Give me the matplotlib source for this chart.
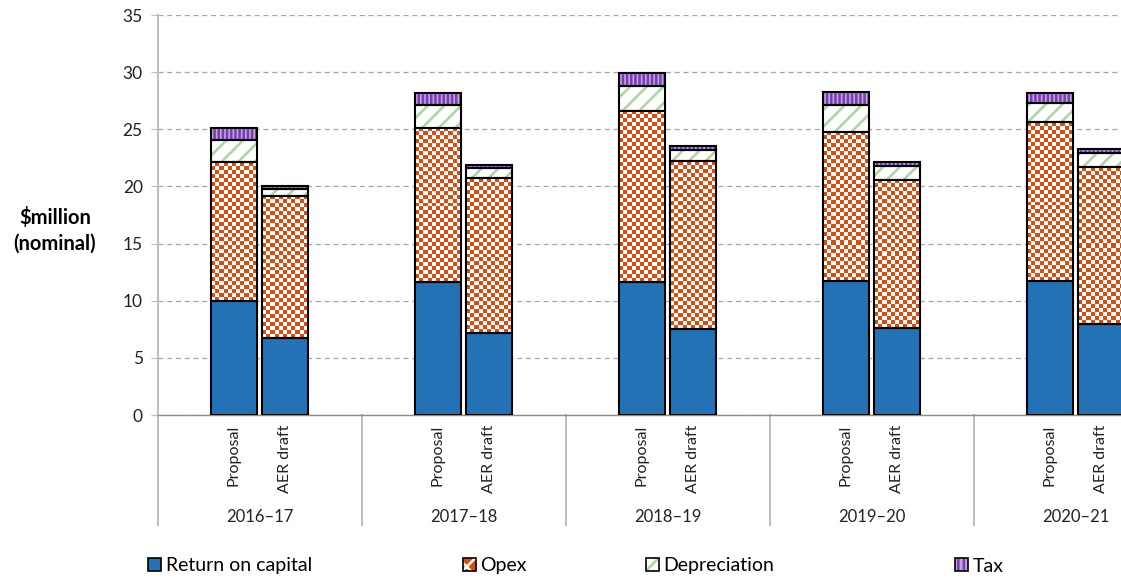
import numpy as np
import matplotlib
matplotlib.use("Agg")
import matplotlib.pyplot as plt
from matplotlib.colors import ListedColormap
from matplotlib.patches import Patch

plt.rcParams['font.family'] = ['Lato', 'DejaVu Sans']
plt.rcParams['hatch.linewidth'] = 1.8

# Data ($million nominal)
years = ["2016–17", "2017–18", "2018–19", "2019–20", "2020–21"]
scenarios = ["Proposal", "AER draft"]

return_proposal = [10.0, 11.6, 11.6, 11.7, 11.7]
opex_proposal = [12.1, 13.5, 15.0, 13.1, 13.9]
dep_proposal = [2.0, 2.0, 2.2, 2.3, 1.7]
tax_proposal = [1.0, 1.1, 1.1, 1.2, 0.9]

return_aer = [6.7, 7.2, 7.5, 7.6, 8.0]
opex_aer = [12.5, 13.5, 14.7, 13.0, 13.7]
dep_aer = [0.6, 0.9, 1.0, 1.2, 1.2]
tax_aer = [0.25, 0.3, 0.3, 0.3, 0.35]

BLUE = '#2372B6'
ORANGE = '#DD4B0D'
GREEN = '#A6D89C'
PURPLE_FACE = '#C0A4DE'
PURPLE_LINE = '#7A3DB0'
GRID = '#A6A6A6'
AXIS = '#BFBFBF'
TXT = '#222222'

fig = plt.figure(figsize=(11.21, 5.81), dpi=100)
ax = fig.add_axes([158 / 1121, 1 - 415 / 581, 1020 / 1121, 400 / 581])

x = np.arange(len(years))
width = 0.225
offsets = [-0.1275, 0.1225]
px_per_x = 204.0
px_per_y = 400.0 / 35


def checker(rect):
    # checkerboard fill clipped to the bar
    x0, y0 = rect.get_x(), rect.get_y()
    w, h = rect.get_width(), rect.get_height()
    nx = max(1, int(round(w * px_per_x / 4.0)))
    ny = max(1, int(round(h * px_per_y / 4.0)))
    arr = np.add.outer(np.arange(ny), np.arange(nx)) % 2
    im = ax.imshow(arr, cmap=ListedColormap(['white', ORANGE]),
                   extent=[x0, x0 + w, y0, y0 + h], aspect='auto',
                   interpolation='nearest', origin='lower', zorder=2)
    im.set_clip_path(rect)


groups = [
    (return_proposal, opex_proposal, dep_proposal, tax_proposal),
    (return_aer, opex_aer, dep_aer, tax_aer),
]

for off, (ret, opx, dep, tax) in zip(offsets, groups):
    pos = x + off
    ret = np.array(ret)
    opx = np.array(opx)
    dep = np.array(dep)
    tax = np.array(tax)
    ax.bar(pos, ret, width, color=BLUE, edgecolor='black', linewidth=1.5, zorder=3)
    bars = ax.bar(pos, opx, width, bottom=ret, facecolor='none', edgecolor='black',
                  linewidth=1.5, zorder=3)
    for r in bars:
        checker(r)
    b2 = ret + opx
    ax.bar(pos, dep, width, bottom=b2, facecolor='white', edgecolor=GREEN,
           hatch='//', linewidth=0, zorder=2)
    ax.bar(pos, dep, width, bottom=b2, facecolor='none', edgecolor='black',
           linewidth=1.5, zorder=3)
    b3 = b2 + dep
    ax.bar(pos, tax, width, bottom=b3, facecolor=PURPLE_FACE, edgecolor=PURPLE_LINE,
           hatch='||||', linewidth=0, zorder=2)
    ax.bar(pos, tax, width, bottom=b3, facecolor='none', edgecolor='black',
           linewidth=1.5, zorder=3)

ax.set_xlim(-0.5, len(years) - 0.5)
ax.set_ylim(0, 35)
ax.set_yticks(range(0, 36, 5))
ax.tick_params(axis='y', labelsize=12.5, length=5, color=AXIS, pad=6, labelcolor=TXT)
ax.set_xticks([])
ax.yaxis.grid(True, linestyle=(0, (4, 3)), color=GRID, linewidth=0.9)
ax.set_axisbelow(True)
for s in ['top', 'right']:
    ax.spines[s].set_visible(False)
ax.spines['left'].set_color(AXIS)
ax.spines['left'].set_linewidth(1.5)
ax.spines['bottom'].set_color('#8C8C8C')
ax.spines['bottom'].set_linewidth(1.0)

# category axis below the plot
trans = ax.get_xaxis_transform()
for sep in np.arange(-0.5, len(years), 1.0):
    ax.plot([sep, sep], [0, -0.275], transform=trans, color=AXIS,
            linewidth=1.5, clip_on=False)
for i, yr in enumerate(years):
    for off, sc in zip(offsets, scenarios):
        ax.text(i + off, -0.025, sc, transform=trans, rotation=90,
                ha='center', va='top', fontsize=11.5, color=TXT)
    ax.text(i, -0.255, yr, transform=trans, ha='center', va='center',
            fontsize=12, color=TXT)

fig.text(55 / 1121, 1 - 230 / 581, "$million\n(nominal)", ha='center', va='center',
         fontsize=14.5, fontweight='bold', linespacing=1.35)

# legend entries placed like the reference (fill layer + black outline)
outline = lambda: Patch(facecolor='none', edgecolor='black', linewidth=1.2)
handles = [
    Patch(facecolor=BLUE, edgecolor='black', linewidth=1.2),
    (Patch(facecolor=ORANGE, edgecolor='white', hatch='xx', linewidth=0), outline()),
    (Patch(facecolor='white', edgecolor=GREEN, hatch='//', linewidth=0), outline()),
    (Patch(facecolor=PURPLE_FACE, edgecolor=PURPLE_LINE, hatch='|||', linewidth=0), outline()),
]
labels = ["Return on capital", "Opex", "Depreciation", "Tax"]
lx = [148, 463, 646, 955]
for h, lab, px in zip(handles, labels, lx):
    fig.legend([h], [lab], loc='center left', bbox_to_anchor=(px / 1121, 1 - 566 / 581),
               frameon=False, fontsize=14, handlelength=0.65, handleheight=0.65,
               handletextpad=0.25, borderaxespad=0, borderpad=0)

fig.savefig("out.png", dpi=100)
plt.close(fig)
print("Plot saved to out.png")
